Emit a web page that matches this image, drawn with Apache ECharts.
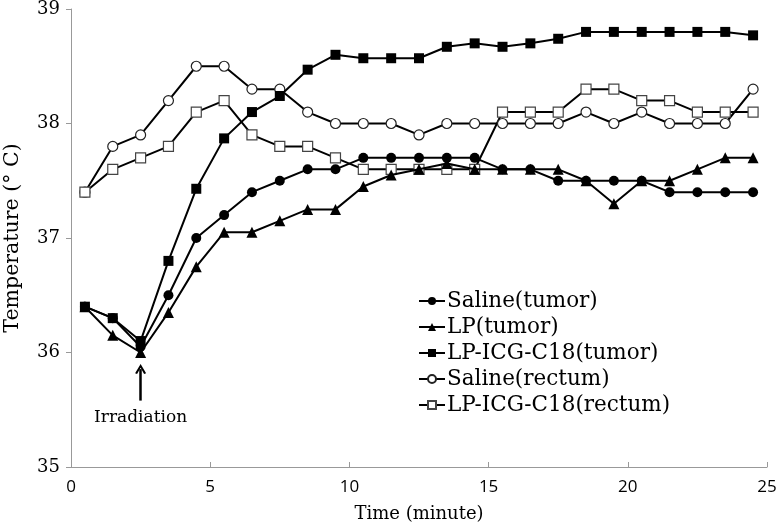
<!DOCTYPE html>
<html><head><meta charset="utf-8">
<script src="https://cdn.jsdelivr.net/npm/echarts@6/dist/echarts.min.js"></script>
<style>html,body{margin:0;padding:0;background:#fff}#c{width:780px;height:524px}</style>
</head><body><div id="c"></div>
<script>
const times = [0.5,1.5,2.5,3.5,4.5,5.5,6.5,7.5,8.5,9.5,10.5,11.5,12.5,13.5,14.5,15.5,16.5,17.5,18.5,19.5,20.5,21.5,22.5,23.5,24.5];
const salineTumor = [36.4,36.3,36.05,36.5,37.0,37.2,37.4,37.5,37.6,37.6,37.7,37.7,37.7,37.7,37.7,37.6,37.6,37.5,37.5,37.5,37.5,37.4,37.4,37.4,37.4];
const lpTumor = [36.4,36.15,36.0,36.35,36.75,37.05,37.05,37.15,37.25,37.25,37.45,37.55,37.6,37.65,37.6,37.6,37.6,37.6,37.5,37.3,37.5,37.5,37.6,37.7,37.7];
const lpIcgTumor = [36.4,36.3,36.1,36.8,37.43,37.87,38.1,38.24,38.47,38.6,38.57,38.57,38.57,38.67,38.7,38.67,38.7,38.74,38.8,38.8,38.8,38.8,38.8,38.8,38.77];
const salineRectum = [37.4,37.8,37.9,38.2,38.5,38.5,38.3,38.3,38.1,38.0,38.0,38.0,37.9,38.0,38.0,38.0,38.0,38.0,38.1,38.0,38.1,38.0,38.0,38.0,38.3];
const lpIcgRectum = [37.4,37.6,37.7,37.8,38.1,38.2,37.9,37.8,37.8,37.7,37.6,37.6,37.6,37.6,37.6,38.1,38.1,38.1,38.3,38.3,38.2,38.2,38.1,38.1,38.1];
const seriesNames = ['Saline(tumor)','LP(tumor)','LP-ICG-C18(tumor)','Saline(rectum)','LP-ICG-C18(rectum)'];
const irradiationTime = 2.5;
const irradiationLabel = 'Irradiation';
const xTitle = 'Time (minute)';
const yTitle = 'Temperature (° C)';

const SERIF = '"DejaVu Serif", "Liberation Serif", serif';
function pairs(vals){ return times.map((t,i)=>[t, vals[i]]); }
function mk(name, vals, symbol, size, filled, border){
  return {
    name, type:'line', data: pairs(vals), symbol, symbolSize: size, showSymbol:true,
    lineStyle:{color:'#000', width:2},
    itemStyle:{color: filled ? '#000' : '#fff', borderColor: border || '#000', borderWidth: filled?0:1.2},
    z: filled ? 3 : 2,
    emphasis:{disabled:true}, animation:false
  };
}
const series = [
  mk(seriesNames[0], salineTumor, 'circle', 10, true),
  mk(seriesNames[1], lpTumor, 'triangle', 11, true),
  mk(seriesNames[2], lpIcgTumor, 'rect', 10, true),
  mk(seriesNames[3], salineRectum, 'circle', 10, false, '#222'),
  mk(seriesNames[4], lpIcgRectum, 'rect', 10, false, '#444')
];
const arrowStyle = {color:'#000', width:2.5, type:'solid', opacity:1};
series[1].markLine = {
  silent:true, animation:false,
  symbol:['none','path://M0,9 L5,0 L10,9 L8.2,9.8 L5,3.6 L1.8,9.8 Z'], symbolSize:[11,10],
  lineStyle:arrowStyle,
  emphasis:{disabled:true},
  label:{show:false},
  data:[[{coord:[irradiationTime,35.58], lineStyle:arrowStyle},{coord:[irradiationTime,35.855]}]]
};
series[1].markPoint = {
  silent:true, animation:false, symbol:'circle', symbolSize:0,
  label:{show:true, position:'inside', formatter: irradiationLabel, color:'#000', fontFamily:SERIF, fontSize:17},
  data:[{coord:[irradiationTime, 35.43]}]
};

const chart = echarts.init(document.getElementById('c'));
chart.setOption({
  backgroundColor:'#fff',
  animation:false,
  grid:{left:71, right:13, top:9, bottom:57, containLabel:false, outerBoundsMode:'none'},
  legend:{
    data: seriesNames, orient:'vertical', left:413, top:285, itemGap:4,
    itemWidth:26, itemHeight:10,
    textStyle:{fontFamily:SERIF, fontSize:21.5, color:'#000', padding:[0,0,0,-3]}
  },
  xAxis:{
    type:'value', min:0, max:25, interval:5,
    name:xTitle, nameLocation:'middle', nameGap:38,
    nameTextStyle:{fontFamily:SERIF, fontSize:18, color:'#000'},
    axisLine:{lineStyle:{color:'#999', width:1}},
    axisTick:{show:true, inside:true, length:5, lineStyle:{color:'#999'}},
    axisLabel:{fontFamily:'"Open Sans", sans-serif', fontSize:17, color:'#000', margin:12},
    splitLine:{show:false}
  },
  yAxis:{
    type:'value', min:35, max:39, interval:1,
    name:yTitle, nameLocation:'middle', nameGap:48, nameRotate:90,
    nameTextStyle:{fontFamily:SERIF, fontSize:20.5, color:'#000'},
    axisLine:{show:true, lineStyle:{color:'#999', width:1}},
    axisTick:{show:true, inside:false, length:5, lineStyle:{color:'#999'}},
    axisLabel:{fontFamily:SERIF, fontSize:18, color:'#000', margin:11},
    splitLine:{show:false}
  },
  series
});
</script></body></html>
